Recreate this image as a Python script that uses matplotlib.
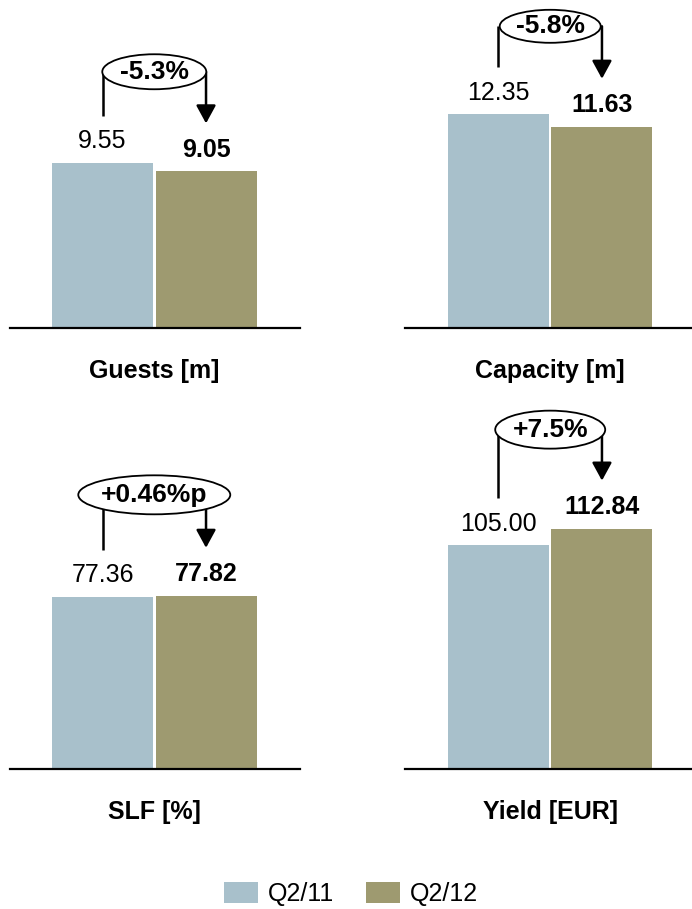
import numpy as np
import matplotlib
matplotlib.use("Agg")
import matplotlib.pyplot as plt
from matplotlib.patches import Ellipse, Patch

plt.rcParams["font.family"] = ["Liberation Sans", "DejaVu Sans"]

# quarterly KPIs, Q2/11 vs Q2/12
titles = ["Guests [m]", "Capacity [m]", "SLF [%]", "Yield [EUR]"]
q2_11 = [9.55, 12.35, 77.36, 105.00]
q2_12 = [9.05, 11.63, 77.82, 112.84]
changes = ["-5.3%", "-5.8%", "+0.46%p", "+7.5%"]
series_names = ["Q2/11", "Q2/12"]

c_old = "#a8c0cb"
c_new = "#9e9a70"

W, H = 692, 909
fig = plt.figure(figsize=(W / 100, H / 100), dpi=100)

# panel layout in pixels: (left, right, baseline), y top of axes = baseline - 308
boxes = [(10, 300, 328), (405, 692, 328), (10, 300, 769), (405, 692, 769)]
xlims = [(-0.894, 1.908), (-0.903, 1.87), (-0.894, 1.908), (-0.903, 1.87)]
ymaxs = [17.8, 17.8, 138.4, 144.6]
ell_off = [91, 88, 101, 99]     # ellipse centre above the taller bar, px
ell_w = [104, 101, 152, 110]
ell_h = [35, 33, 39, 38]
AX_H = 308
PX_X = 103.5

for i in range(4):
    l, r, base = boxes[i]
    ax = fig.add_axes([l / W, 1 - base / H, (r - l) / W, AX_H / H])
    ymax = ymaxs[i]
    py = lambda px: px * ymax / AX_H

    ax.bar(0, q2_11[i], width=0.976, color=c_old, zorder=2)
    ax.bar(1, q2_12[i], width=0.976, color=c_new, zorder=2)
    ax.set_xlim(*xlims[i])
    ax.set_ylim(0, ymax)
    ax.set_xticks([])
    ax.set_yticks([])
    for s in ["top", "left", "right"]:
        ax.spines[s].set_visible(False)
    ax.spines["bottom"].set_linewidth(1.6)
    ax.spines["bottom"].set_color("black")
    ax.spines["bottom"].set_zorder(3)

    # value labels
    ax.annotate(f"{q2_11[i]:.2f}", xy=(0, q2_11[i]), xytext=(0, 15.5),
                textcoords="offset points", ha="center", va="center",
                fontsize=18)
    ax.annotate(f"{q2_12[i]:.2f}", xy=(1, q2_12[i]), xytext=(0, 15.5),
                textcoords="offset points", ha="center", va="center",
                fontsize=18, fontweight="bold")

    # change bracket with ellipse
    yc = max(q2_11[i], q2_12[i]) + py(ell_off[i])
    ax.plot([0, 0], [q2_11[i] + py(47), yc], color="black", lw=1.8,
            solid_capstyle="butt", clip_on=False, zorder=4)
    ax.annotate("", xy=(1, q2_12[i] + py(48)), xytext=(1, yc),
                arrowprops=dict(arrowstyle="-|>,head_length=0.55,head_width=0.3",
                                mutation_scale=20, lw=1.8, color="black",
                                shrinkA=0, shrinkB=0),
                annotation_clip=False, zorder=4)
    ax.add_patch(Ellipse((0.5, yc), ell_w[i] / PX_X, py(ell_h[i]),
                         facecolor="white", edgecolor="black", lw=1.3,
                         clip_on=False, zorder=5))
    ax.text(0.5, yc, changes[i], ha="center", va="center", fontsize=19,
            fontweight="bold", zorder=6)

    ax.annotate(titles[i], xy=(0.5, 0), xytext=(0, -31),
                textcoords="offset points", ha="center", va="center",
                fontsize=18, fontweight="bold")

handles = [Patch(facecolor=c_old), Patch(facecolor=c_new)]
fig.legend(handles, series_names, loc="center", ncol=2, frameon=False,
           bbox_to_anchor=(351 / W, 1 - 894 / H), fontsize=18,
           handlelength=1.36, handleheight=0.88, handletextpad=0.4,
           columnspacing=1.3, borderpad=0)

fig.savefig("out.png", dpi=100)
